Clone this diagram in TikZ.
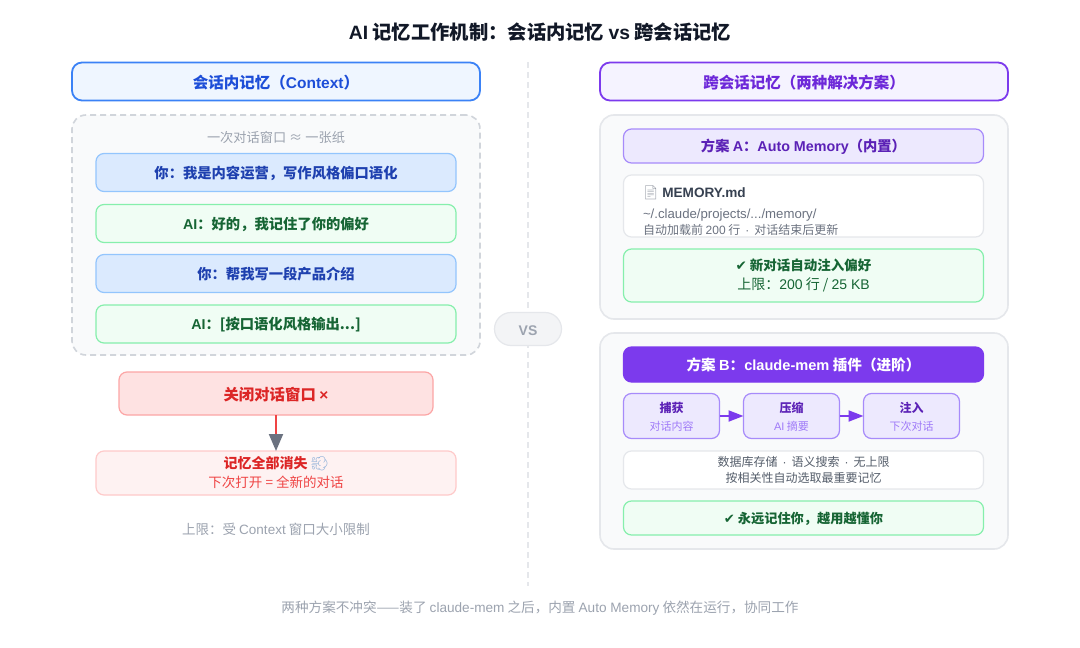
\documentclass[tikz,border=0pt]{standalone}
\usepackage{fontspec}
\usetikzlibrary{arrows.meta}
\setmainfont{Noto Sans CJK SC}
\newfontfamily\latfont{Liberation Sans}
\newfontfamily\symfont{DejaVu Sans}
\newfontfamily\emojifont{Noto Emoji}
\newcommand{\la}[1]{{\latfont #1}}
\newcommand{\fsz}[1]{\fontsize{#1}{#1}\selectfont}
\newcommand{\boxstrut}{\rule{0pt}{.95em}\rule[-.05em]{0pt}{.05em}}
\newcommand{\middot}{\hspace{5pt}\la{·}\hspace{5pt}}
\definecolor{ink}{HTML}{111827}
\definecolor{greytxt}{HTML}{9CA3AF}
\definecolor{midtxt}{HTML}{6B7280}
\definecolor{darktxt}{HTML}{374151}
\definecolor{line}{HTML}{E5E7EB}
\definecolor{dashline}{HTML}{D1D5DB}
\definecolor{pillbg}{HTML}{F3F4F6}
\definecolor{panelbg}{HTML}{F9FAFB}
\definecolor{blueline}{HTML}{3B82F6}
\definecolor{bluebg}{HTML}{EFF6FF}
\definecolor{bluetxt}{HTML}{1D4ED8}
\definecolor{chatblue}{HTML}{DBEAFE}
\definecolor{chatline}{HTML}{93C5FD}
\definecolor{chattxt}{HTML}{1E40AF}
\definecolor{greenbg}{HTML}{F0FDF4}
\definecolor{greenline}{HTML}{86EFAC}
\definecolor{greentxt}{HTML}{166534}
\definecolor{redbg}{HTML}{FEE2E2}
\definecolor{redline}{HTML}{FCA5A5}
\definecolor{redtxt}{HTML}{DC2626}
\definecolor{redsoft}{HTML}{FEF2F2}
\definecolor{redsoftline}{HTML}{FECACA}
\definecolor{redarrow}{HTML}{EF4444}
\definecolor{purple}{HTML}{7C3AED}
\definecolor{purplebg}{HTML}{F5F3FF}
\definecolor{purpletxt}{HTML}{6D28D9}
\definecolor{lilac}{HTML}{EDE9FE}
\definecolor{lilacline}{HTML}{A78BFA}
\definecolor{lilactxt}{HTML}{5B21B6}
\definecolor{lilacsoft}{HTML}{9F7AF8}
\tikzset{
  box/.style={rectangle, rounded corners=8pt, inner sep=0pt, outer sep=0pt, line width=1.2pt, align=center,
    execute at begin node=\boxstrut},
  label/.style={inner sep=0pt, outer sep=0pt, execute at begin node=\boxstrut},
  header/.style={box, rounded corners=10pt, minimum width=408pt, minimum height=38pt, line width=1.8pt, font=\fsz{15.5}\bfseries},
  panel/.style={box, rounded corners=14pt, minimum width=408pt, fill=panelbg, draw=line, line width=1.6pt},
  wide/.style={box, minimum width=360pt},
  chatyou/.style={wide, minimum height=38pt, fill=chatblue, draw=chatline, text=chattxt, font=\fsz{14.3}\bfseries},
  chatai/.style={wide, minimum height=38pt, fill=greenbg, draw=greenline, text=greentxt, font=\fsz{14.3}\bfseries},
  whitebox/.style={wide, rounded corners=8pt, fill=white, draw=line},
  stepbox/.style={box, minimum width=96pt, minimum height=45pt, fill=lilac, draw=lilacline},
  stephead/.style={label, text=lilactxt, font=\fsz{12}\bfseries},
  stepsub/.style={label, text=lilacsoft, font=\fsz{11}},
  flow/.style={draw=purple, line width=2pt, -{Triangle[length=15pt,width=11pt]}, fill=purple},
}
\begin{document}
\begin{tikzpicture}[x=1pt, y=1pt]
  \useasboundingbox (0,0) rectangle (1080,-648);
  \fill[white] (0,0) rectangle (1080,-648);
  \node[label, text=ink, font=\fsz{19.3}\bfseries] (title) at (540,-31) {\la{AI} 记忆工作机制：会话内记忆 \la{vs} 跨会话记忆};

  % divider
  \coordinate (divtop) at (528,-62);
  \coordinate (divbot) at (528,-586);
  \draw[line, line width=1.5pt, dash pattern=on 6pt off 4pt] (divtop) -- (divbot);
  \node[box, rounded corners=16.5pt, minimum width=67pt, minimum height=33pt, fill=pillbg, draw=line, text=greytxt, font=\fsz{14}\bfseries] (vs) at (528,-329) {\la{VS}};

  % left side
  \node[header, fill=bluebg, draw=blueline, text=bluetxt] (lefthead) at (276,-81.5) {会话内记忆（\la{Context}）};
  \node[panel, minimum height=240pt, draw=dashline, dash pattern=on 6pt off 4pt] (window) at (276,-235) {};
  \node[label, text=greytxt, font=\fsz{13.2}] (windowlabel) at (276,-137) {一次对话窗口 ≈ 一张纸};
  \node[chatyou] (chata) at (276,-172.5) {你：我是内容运营，写作风格偏口语化};
  \node[chatai] (chatb) at (276,-223.5) {\la{AI}：好的，我记住了你的偏好};
  \node[chatyou] (chatc) at (276,-273.5) {你：帮我写一段产品介绍};
  \node[chatai] (chatd) at (276,-324) {\la{AI}：[按口语化风格输出...]};
  \node[box, minimum width=314pt, minimum height=43pt, fill=redbg, draw=redline, text=redtxt, font=\fsz{15.4}\bfseries] (close) at (276,-393.5) {关闭对话窗口 \la{×}};
  \node[wide, minimum height=44pt, fill=redsoft, draw=redsoftline] (gone) at (276,-473) {};
  \node[label, text=redtxt, font=\fsz{14}\bfseries] (gonea) at (276,-463) {记忆全部消失 {\emojifont\color{chatline!70!midtxt}💨}};
  \node[label, text=redarrow, font=\fsz{13.5}] (goneb) at (276,-482) {下次打开 = 全新的对话};
  \draw[redarrow, line width=2pt, -{Triangle[length=17pt,width=14pt,color=midtxt]}] (close) -- (gone);
  \node[label, text=greytxt, font=\fsz{13.5}] (limit) at (276,-529) {上限：受 \la{Context} 窗口大小限制};

  % right side
  \node[header, fill=purplebg, draw=purple, text=purpletxt] (righthead) at (804,-81.5) {跨会话记忆（两种解决方案）};

  % plan A
  \node[panel, minimum height=204pt] (panela) at (804,-217) {};
  \node[wide, minimum height=34pt, fill=lilac, draw=lilacline, text=lilactxt, font=\fsz{14.3}\bfseries] (aheader) at (803.5,-146) {方案 \la{A}：\la{Auto Memory}（内置）};
  \node[whitebox, minimum height=62pt] (file) at (803.5,-206) {};
  \node[label, anchor=west, text=darktxt, font=\fsz{13.6}] (filename) at (642,-192) {{\emojifont\color{midtxt!70!white}📄} {\bfseries\la{MEMORY.md}}};
  \node[label, anchor=west, text=midtxt, font=\fsz{13.2}] (filepath) at (643,-214) {\la{\textasciitilde/.claude/projects/.../memory/}};
  \node[label, anchor=west, text=midtxt, font=\fsz{12}] (fileload) at (643,-229) {自动加载前 \la{200} 行\middot 对话结束后更新};
  \node[wide, minimum height=53pt, fill=greenbg, draw=greenline] (aresult) at (803.5,-275.5) {};
  \node[label, text=greentxt, font=\fsz{13.5}\bfseries] (aresulta) at (803.5,-265) {{\symfont ✔} 新对话自动注入偏好};
  \node[label, text=greentxt, font=\fsz{14}] (aresultb) at (803.5,-284) {上限：\la{200} 行 / \la{25 KB}};

  % plan B
  \node[panel, minimum height=216pt] (panelb) at (804,-441) {};
  \node[wide, minimum height=35pt, fill=purple, draw=purple, text=white, font=\fsz{14.6}\bfseries] (bheader) at (803.5,-364.5) {方案 \la{B}：\la{claude-mem} 插件（进阶）};
  \node[stepbox] (capture) at (671.5,-416) {};
  \node[stepbox] (compress) at (791.5,-416) {};
  \node[stepbox] (inject) at (911.5,-416) {};
  \node[stephead] (capturea) at (671.5,-407) {捕获};
  \node[stepsub] (captureb) at (671.5,-426) {对话内容};
  \node[stephead] (compressa) at (791.5,-407) {压缩};
  \node[stepsub] (compressb) at (791.5,-426) {\la{AI} 摘要};
  \node[stephead] (injecta) at (911.5,-407) {注入};
  \node[stepsub] (injectb) at (911.5,-426) {下次对话};
  \draw[flow] (capture) -- (compress);
  \draw[flow] (compress) -- (inject);
  \node[whitebox, minimum height=38pt] (store) at (803.5,-470) {};
  \node[label, text=darktxt!85!white, font=\fsz{12}] (storea) at (803.5,-461.5) {数据库存储\middot 语义搜索\middot 无上限};
  \node[label, text=darktxt!85!white, font=\fsz{12}] (storeb) at (803.5,-477) {按相关性自动选取最重要记忆};
  \node[wide, minimum height=34pt, fill=greenbg, draw=greenline, text=greentxt, font=\fsz{13.2}\bfseries] (bresult) at (803.5,-518) {{\symfont ✔} 永远记住你，越用越懂你};

  \node[label, text=greytxt, font=\fsz{13.6}] (footer) at (540,-607) {两种方案不冲突——装了 \la{claude-mem} 之后，内置 \la{Auto Memory} 依然在运行，协同工作};
\end{tikzpicture}
\end{document}
